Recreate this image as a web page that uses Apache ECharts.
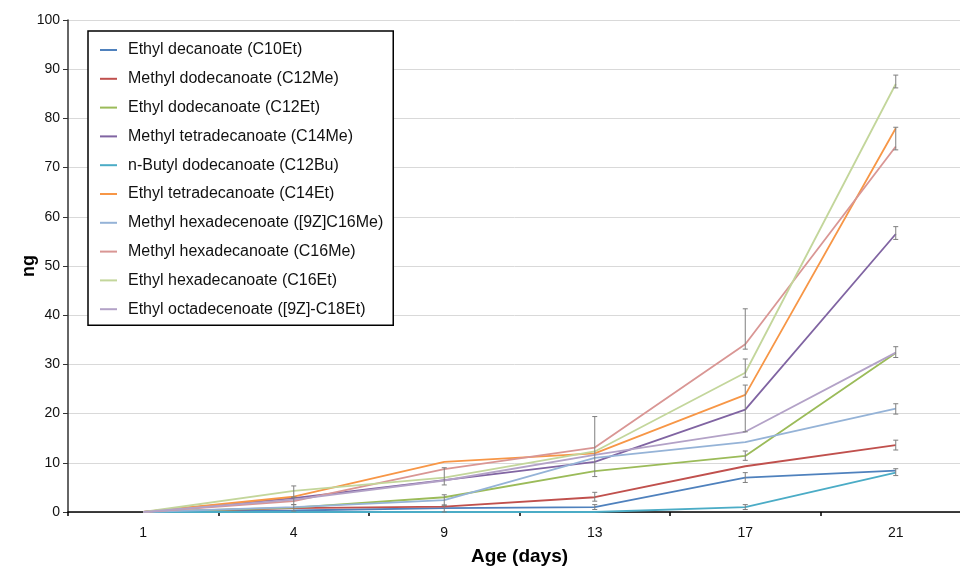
<!DOCTYPE html>
<html>
<head>
<meta charset="utf-8">
<script src="https://cdn.jsdelivr.net/npm/echarts@6/dist/echarts.min.js"></script>
<style>
html,body{margin:0;padding:0;background:#fff;overflow:hidden;}
#chart{width:960px;height:568px;}
</style>
</head>
<body>
<div id="chart"></div>
<script>
const categories = ['1', '4', '9', '13', '17', '21'];
const seriesNames = [
  'Ethyl decanoate (C10Et)',
  'Methyl dodecanoate (C12Me)',
  'Ethyl dodecanoate (C12Et)',
  'Methyl tetradecanoate (C14Me)',
  'n-Butyl dodecanoate (C12Bu)',
  'Ethyl tetradecanoate (C14Et)',
  'Methyl hexadecenoate ([9Z]C16Me)',
  'Methyl hexadecanoate (C16Me)',
  'Ethyl hexadecanoate (C16Et)',
  'Ethyl octadecenoate ([9Z]-C18Et)'
];
const c10Et  = [0, 0.3, 0.8, 1.0, 7.0, 8.4];
const c12Me  = [0, 0.8, 1.1, 3.0, 9.3, 13.6];
const c12Et  = [0, 0.9, 3.0, 8.3, 11.4, 32.3];
const c14Me  = [0, 2.8, 6.5, 10.2, 20.8, 56.5];
const c12Bu  = [0, 0, 0, 0, 1.0, 8.0];
const c14Et  = [0, 3.1, 10.2, 11.9, 23.8, 78.0];
const c16MeZ = [0, 1.0, 2.4, 11.0, 14.2, 21.0];
const c16Me  = [0, 2.2, 8.7, 13.1, 34.1, 74.3];
const c16Et  = [0, 4.3, 7.0, 12.3, 28.3, 87.0];
const c18Et  = [0, 2.5, 6.4, 11.6, 16.3, 32.4];
// error bars: [category index, low, high]
const errorBars = [
  [1, 3.0, 5.3], [1, 1.5, 3.0], [1, 0.2, 1.5],
  [2, 5.5, 9.0], [2, 1.4, 3.5], [2, 0.0, 1.4],
  [3, 7.2, 19.4], [3, 2.2, 4.0], [3, 0.5, 1.5],
  [4, 33.1, 41.3], [4, 27.4, 31.1], [4, 16.3, 25.8], [4, 10.5, 12.4], [4, 6.0, 8.0], [4, 0.5, 1.5],
  [5, 86.2, 88.8], [5, 73.6, 78.2], [5, 55.4, 58.0], [5, 31.4, 33.6], [5, 19.9, 22.0], [5, 12.6, 14.6], [5, 7.4, 8.8]
];
const yTicks = [0, 10, 20, 30, 40, 50, 60, 70, 80, 90, 100];

const colors = ['#4F81BD', '#C0504D', '#9BBB59', '#8064A2', '#4BACC6', '#F79646', '#95B3D7', '#D99694', '#C3D69B', '#B3A2C7'];
const allData = [c10Et, c12Me, c12Et, c14Me, c12Bu, c14Et, c16MeZ, c16Me, c16Et, c18Et];

const chart = echarts.init(document.getElementById('chart'), null, {renderer: 'canvas'});
const FONT = 'Liberation Sans, Arial, Helvetica, sans-serif';

const series = allData.map((d, i) => ({
  name: seriesNames[i],
  type: 'line',
  data: d,
  symbol: 'none',
  lineStyle: {color: colors[i], width: 1.8},
  itemStyle: {color: colors[i]},
  z: 3,
  animation: false
}));

series.push({
  type: 'custom',
  name: 'err',
  data: errorBars,
  z: 4,
  silent: true,
  animation: false,
  renderItem: function (params, api) {
    const c = api.value(0);
    const lo = api.coord([c, api.value(1)]);
    const hi = api.coord([c, api.value(2)]);
    const w = 2.5;
    const style = {stroke: '#7f7f7f', lineWidth: 1};
    return {
      type: 'group',
      children: [
        {type: 'line', shape: {x1: lo[0], y1: lo[1], x2: hi[0], y2: hi[1]}, style: style},
        {type: 'line', shape: {x1: lo[0] - w, y1: lo[1], x2: lo[0] + w, y2: lo[1]}, style: style},
        {type: 'line', shape: {x1: hi[0] - w, y1: hi[1], x2: hi[0] + w, y2: hi[1]}, style: style}
      ]
    };
  }
});

chart.setOption({
  backgroundColor: '#ffffff',
  animation: false,
  grid: {left: 68, top: 20, width: 903, height: 492, containLabel: false, outerBoundsMode: 'none'},
  legend: {
    data: seriesNames,
    orient: 'vertical',
    left: 88,
    top: 31,
    padding: [11, 10, 8, 12],
    itemGap: 12.8,
    itemWidth: 17,
    itemHeight: 2,
    icon: 'rect',
    borderColor: '#000',
    borderWidth: 1.5,
    backgroundColor: '#fff',
    textStyle: {fontFamily: FONT, fontSize: 16, color: '#111', padding: [0, 0, 0, 6], lineHeight: 16}
  },
  xAxis: {
    type: 'category',
    data: categories,
    boundaryGap: true,
    name: 'Age (days)',
    nameLocation: 'middle',
    nameGap: 35,
    nameMoveOverlap: false,
    nameTextStyle: {fontFamily: FONT, fontSize: 19, fontWeight: 'bold', color: '#000'},
    axisLine: {lineStyle: {color: '#000', width: 1.5}},
    axisTick: {show: true, inside: false, length: 4, lineStyle: {color: '#000', width: 1.5}},
    axisLabel: {fontFamily: FONT, fontSize: 14, color: '#111', margin: 14},
    splitLine: {show: false}
  },
  yAxis: {
    type: 'value',
    min: 0,
    max: 100,
    interval: 10,
    name: 'ng',
    nameLocation: 'middle',
    nameGap: 30,
    nameMoveOverlap: false,
    nameRotate: 90,
    nameTextStyle: {fontFamily: FONT, fontSize: 18, fontWeight: 'bold', color: '#000'},
    axisLine: {show: true, lineStyle: {color: '#333', width: 1.5}},
    axisTick: {show: true, inside: false, length: 5, lineStyle: {color: '#333'}},
    axisLabel: {fontFamily: FONT, fontSize: 14, color: '#111', margin: 8,
      formatter: function (v) { return yTicks.indexOf(v) >= 0 ? String(v) : ''; }},
    splitLine: {show: true, lineStyle: {color: '#d9d9d9', width: 1}}
  },
  series: series
});
</script>
</body>
</html>
